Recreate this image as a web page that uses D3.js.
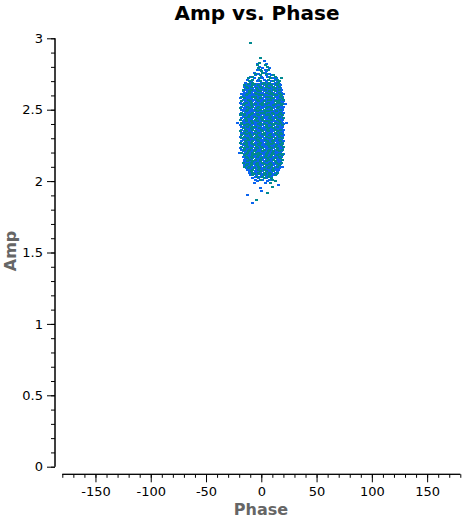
<!DOCTYPE html>
<html>
<head>
<meta charset="utf-8">
<script src="https://cdn.jsdelivr.net/npm/d3@7"></script>
<style>
  body { margin: 0; background: #fff; }
  text { font-family: "DejaVu Sans", sans-serif; }
</style>
</head>
<body>
<div id="chart"></div>
<script>
// chart texts and ticks
const titleText = "Amp vs. Phase";
const xLabel = "Phase";
const yLabel = "Amp";
const xTicks = [-150, -100, -50, 0, 50, 100, 150];
const yTicks = [0, 0.5, 1, 1.5, 2, 2.5, 3];

// each row: [amp, phase, phase, ...]
const blueRows = [
  [2.84, 2.5], [2.82, -3.5, 4], [2.80, -2], [2.79, 1, 7], [2.78, -4, 3], [2.77, 4],
  [2.76, -7, 3], [2.75, -3, 7], [2.74, -6, 4, 9], [2.73, -10, 0, 5],
  [2.72, -7, 1, 11, 13], [2.71, -13, -3, 2, 12], [2.70, -9, -4, 4, 9, 14],
  [2.69, -15, -10, 0, 5, 12], [2.68, -14, -9, -4, -2, 3, 8, 11, 16],
  [2.67, -13, -11, -6, -1, 2, 7, 12, 17], [2.66, -16, -11, -6, -4, 1, 6, 9, 14],
  [2.65, -15, -10, -8, -3, 2, 5, 10, 15, 17], [2.64, -14, -12, -7, -2, 1, 6, 8, 13, 18],
  [2.63, -17, -13, -8, -6, 2, 4, 9, 14, 17], [2.62, -16, -14, -9, -4, -1, 1, 6, 11, 14, 18],
  [2.61, -18, -15, -10, -8, 0, 2, 5, 12, 15, 20], [2.60, -17, -12, -9, -7, -4, 3, 6, 8, 16],
  [2.59, -16, -13, -11, -3, -1, 2, 9, 12, 14, 19], [2.58, -19, -14, -11, -9, -4, 1, 4, 6, 14, 16],
  [2.57, -17, -14, -9, -7, -2, 1, 3, 11, 13, 18], [2.56, -15, -13, -8, -5, 0, 5, 7, 10, 17, 20],
  [2.55, -19, -16, -11, -6, -4, -1, 4, 9, 11, 19], [2.54, -18, -13, -11, -8, -3, 2, 7, 9, 14, 17, 21],
  [2.53, -14, -12, -7, -4, -2, 3, 6, 8, 13, 16], [2.52, -18, -15, -10, -5, 0, 2, 10, 12, 17, 20],
  [2.51, -16, -14, -9, -6, -1, 1, 6, 11, 16, 19], [2.50, -18, -16, -11, -8, -3, 4, 7, 12, 14, 19],
  [2.49, -17, -12, -9, -7, -2, 1, 8, 11, 16, 18], [2.48, -15, -13, -10, -5, -3, 5, 7, 12, 15, 20],
  [2.47, -19, -14, -11, -6, -1, 1, 4, 9, 14, 19], [2.46, -18, -13, -8, -6, -1, 2, 9, 12, 17],
  [2.45, -17, -14, -9, -4, -2, 3, 6, 11, 13, 18], [2.44, -18, -13, -10, -8, -3, 2, 5, 10, 15, 17],
  [2.43, -16, -11, -9, -4, -1, 4, 6, 11, 16, 19], [2.42, -17, -12, -7, -2, 1, 8, 11, 13, 18],
  [2.41, -22, -16, -13, -11, -6, -3, 2, 4, 9, 14, 19, 22], [2.40, -15, -10, -8, -5, 0, 5, 7, 12, 17, 20],
  [2.39, -19, -14, -9, -6, -4, 1, 6, 9, 14, 16], [2.38, -18, -16, -11, -3, -1, 2, 7, 12, 17, 19],
  [2.37, -14, -12, -7, -4, 1, 3, 8, 13, 16, 18], [2.36, -18, -13, -10, -5, -3, 2, 7, 10, 15, 20],
  [2.35, -16, -11, -9, -4, -1, 4, 9, 11, 16, 19], [2.34, -18, -13, -8, -6, -1, 4, 7, 9, 14, 19],
  [2.33, -17, -12, -9, -4, -2, 3, 6, 11, 16], [2.32, -15, -13, -8, -3, 0, 5, 10, 12, 17, 20],
  [2.31, -19, -14, -11, -6, -1, 1, 6, 11, 14, 19], [2.30, -16, -11, -8, -3, 2, 4, 9, 14, 17],
  [2.29, -17, -14, -9, -7, -2, 1, 6, 8, 13, 18], [2.28, -18, -13, -10, -5, 0, 2, 7, 12, 15, 20],
  [2.27, -16, -11, -6, -4, 1, 4, 9, 14, 16], [2.26, -18, -13, -11, -6, -1, 2, 7, 12, 14, 19],
  [2.25, -17, -12, -9, -4, 1, 3, 8, 11, 16], [2.24, -15, -10, -8, -3, 2, 5, 10, 15, 17],
  [2.23, -19, -14, -11, -6, -1, 4, 6, 11, 16, 19], [2.22, -18, -13, -8, -3, -1, 4, 9, 12, 17],
  [2.21, -17, -14, -9, -4, -2, 3, 8, 13, 18], [2.20, -20, -15, -10, -5, 0, 2, 7, 12, 15, 17],
  [2.19, -16, -11, -9, -4, 1, 6, 9, 14, 20], [2.18, -13, -11, -6, -1, 2, 7, 12, 17],
  [2.17, -17, -12, -7, -2, 1, 6, 11, 13, 18], [2.16, -15, -10, -5, -3, 2, 7, 10, 15],
  [2.15, -16, -14, -9, -4, 1, 4, 9, 14, 16], [2.14, -16, -11, -6, -3, 2, 7, 9, 14, 17],
  [2.13, -14, -12, -7, -2, 3, 6, 11, 16], [2.12, -15, -10, -8, -3, 0, 5, 10, 12, 17],
  [2.11, -16, -11, -6, -1, 1, 6, 11, 14], [2.10, -13, -8, -6, -1, 4, 9, 12, 17, 19],
  [2.09, -14, -9, -4, 1, 3, 8, 13, 16], [2.08, -13, -10, -5, 0, 5, 7, 12, 15],
  [2.07, -11, -6, -4, 1, 6, 9, 14], [2.06, -11, -6, -1, 4, 9, 12],
  [2.05, -9, -4, 1, 6, 11, 13], [2.04, -10, -5, 0, 5, 10], [2.03, -6, -1, 4, 9],
  [2.02, -8, -3, 4], [2.01, -6, 1, 7], [2.00, -4, 5], [1.99, -7, 3], [1.97, 15],
  [1.95, -1.5], [1.93, 0], [1.90, -13], [1.85, -8]
];

const tealRows = [
  [2.97, -10], [2.86, -1], [2.83, -2], [2.81, -4, 3], [2.80, 5], [2.79, -3], [2.78, -1, 6],
  [2.77, 0], [2.76, 1], [2.75, -6, 4], [2.74, -1, 11],
  [2.73, -8, 7, 12], [2.72, -12, -2, 8, 18], [2.71, -8, 6, 14],
  [2.70, -11, -1, 11, 16], [2.69, -8, 2, 7, 15], [2.68, -12, -7, 1, 6, 13],
  [2.67, -16, -8, -3, 4, 9, 14], [2.66, -14, -9, -1, 4, 11, 16], [2.65, -13, -5, 0, 7, 12],
  [2.64, -17, -9, -4, 3, 11, 16], [2.63, -11, -3, -1, 7, 12], [2.62, -11, -6, 4, 9, 16],
  [2.61, -13, -5, -3, 7, 10, 17], [2.60, -14, -2, 1, 11, 13, 18], [2.59, -18, -8, -6, 4, 7, 17],
  [2.58, -16, -6, -1, 9, 11, 19], [2.57, -12, -4, 6, 8, 16, 20], [2.56, -18, -10, -3, 2, 12, 15],
  [2.55, -14, -9, 1, 6, 14, 16], [2.54, -16, -6, -1, 4, 12, 19], [2.53, -17, -9, 1, 11, 18],
  [2.52, -13, -8, -3, 5, 7, 15], [2.51, -19, -11, -4, 4, 9, 14], [2.50, -13, -6, -1, 2, 9, 17],
  [2.49, -14, -4, 3, 6, 13], [2.48, -18, -8, 0, 2, 10, 17], [2.47, -16, -9, -4, 6, 11, 16],
  [2.46, -19, -16, -11, -3, 4, 7, 14, 19], [2.45, -12, -7, 1, 8, 16], [2.44, -15, -5, 0, 7, 12, 20],
  [2.43, -19, -14, -6, 1, 9, 14], [2.42, -14, -9, -4, 3, 6, 16], [2.41, -18, -8, -1, 7, 12, 17],
  [2.40, -18, -13, -3, 2, 10, 15], [2.39, -16, -11, -1, 4, 11, 19], [2.38, -13, -8, -6, 4, 9, 14],
  [2.37, -17, -9, -2, 6, 11], [2.36, -15, -8, 0, 5, 12, 17], [2.35, -19, -14, -6, 1, 6, 14],
  [2.34, -16, -11, -3, 2, 12, 17], [2.33, -14, -7, 1, 8, 13, 18], [2.32, -18, -10, -5, 2, 7, 15],
  [2.31, -16, -9, -4, 4, 9, 16], [2.30, -18, -13, -6, -1, 7, 12, 19], [2.29, -12, -4, 3, 11, 16],
  [2.28, -15, -8, -3, 5, 10, 17], [2.27, -19, -14, -9, -1, 6, 11, 19], [2.26, -16, -8, -3, 4, 9, 17],
  [2.25, -14, -7, -2, 6, 13, 18], [2.24, -18, -13, -5, 0, 7, 12, 20], [2.23, -16, -9, -4, 1, 9, 14],
  [2.22, -16, -11, -6, 2, 7, 14, 19], [2.21, -12, -7, 1, 6, 11, 16], [2.20, -18, -13, -8, -3, 5, 10],
  [2.19, -14, -6, -1, 4, 11, 16, 19], [2.18, -16, -8, -3, 4, 9, 14, 19], [2.17, -14, -9, -4, 3, 8, 16],
  [2.16, -13, -8, 0, 5, 12, 17], [2.15, -11, -6, -1, 6, 11, 19], [2.14, -13, -8, -1, 4, 12],
  [2.13, -17, -9, -4, 1, 8, 13, 18], [2.12, -13, -5, 2, 7, 15], [2.11, -14, -9, -4, 4, 9, 16],
  [2.10, -16, -11, -3, 2, 7, 14], [2.09, -12, -7, -2, 6, 11], [2.08, -8, -3, 2, 10],
  [2.07, -9, -1, 4, 11], [2.06, -8, -3, 2, 7, 14], [2.05, -7, -2, 3, 8], [2.04, -8, 2, 7, 12],
  [2.03, -4, 1, 6], [2.02, 2, 9], [2.01, -1, 10], [2.00, 12], [1.99, 8], [1.96, 10],
  [1.92, 5], [1.87, -5]
];

const seriesColors = ["#0a64f0", "#00898f"];

// flatten the rows into points
function toPoints(rows) {
  return rows.flatMap(r => r.slice(1).map(p => ({ phase: p, amp: r[0] })));
}
const series = [toPoints(blueRows), toPoints(tealRows)];

const svgWidth = 465, svgHeight = 520;

const svg = d3.select("#chart")
  .append("svg")
  .attr("width", svgWidth)
  .attr("height", svgHeight);

// scales
const x = d3.scaleLinear().domain([-180, 180]).range([62.3, 460.3]);
const y = d3.scaleLinear().domain([0, 3]).range([466.7, 38.3]);

// y axis: major ticks plus minor ticks
const yAxisG = svg.append("g").attr("transform", "translate(55,0)");
yAxisG.call(d3.axisLeft(y).tickValues(d3.range(0, 3.001, 0.1)).tickSize(4).tickFormat(""));
yAxisG.append("g").call(d3.axisLeft(y).tickValues(yTicks).tickSize(8).tickPadding(4).tickFormat(d => String(d)));
yAxisG.selectAll(".domain").attr("d", `M0,${y(3)}V${y(0)}`);

// x axis sits below the plot
const xAxisG = svg.append("g").attr("transform", "translate(0,474.3)");
xAxisG.call(d3.axisBottom(x).tickValues(d3.range(-180, 181, 10)).tickSize(3.5).tickFormat(""));
xAxisG.append("g").call(d3.axisBottom(x).tickValues(xTicks).tickSize(8).tickPadding(4).tickFormat(d => String(d)));
xAxisG.selectAll(".domain").attr("d", `M${x(-180)},0H${x(180)}`);

svg.selectAll(".tick text")
  .style("font-size", "13px")
  .style("font-family", "DejaVu Sans, sans-serif")
  .attr("fill", "#000");
svg.selectAll(".domain, .tick line").attr("stroke", "#000");

// points
svg.append("g")
  .selectAll("g")
  .data(series)
  .join("g")
  .attr("fill", (d, i) => seriesColors[i])
  .selectAll("rect")
  .data(d => d)
  .join("rect")
  .attr("x", d => Math.round(x(d.phase)) - 1)
  .attr("y", d => Math.round(y(d.amp)) - 1)
  .attr("width", 3)
  .attr("height", 2)
  .attr("shape-rendering", "crispEdges");

// title and axis labels
svg.append("text")
  .attr("x", 257)
  .attr("y", 20)
  .attr("text-anchor", "middle")
  .style("font-size", "20px")
  .style("font-weight", "bold")
  .text(titleText);

svg.append("text")
  .attr("x", 261)
  .attr("y", 515)
  .attr("text-anchor", "middle")
  .style("font-size", "16px")
  .style("font-weight", "bold")
  .attr("fill", "#666")
  .text(xLabel);

svg.append("text")
  .attr("transform", "translate(16,251) rotate(-90)")
  .attr("text-anchor", "middle")
  .style("font-size", "16px")
  .style("font-weight", "bold")
  .attr("fill", "#666")
  .text(yLabel);
</script>
</body>
</html>
